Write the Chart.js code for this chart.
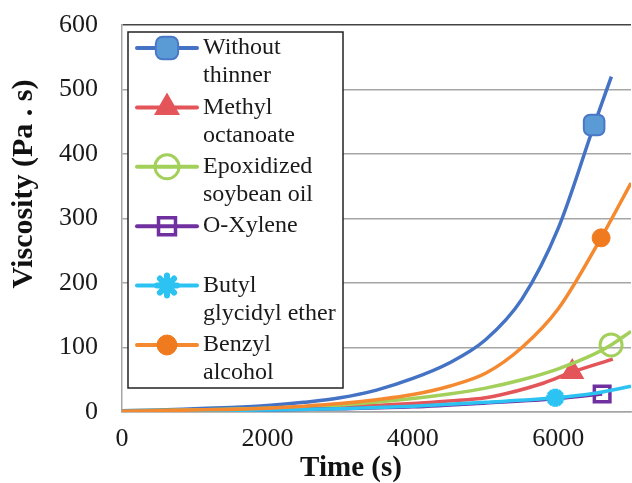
<!DOCTYPE html>
<html>
<head>
<meta charset="utf-8">
<script src="https://cdn.jsdelivr.net/npm/chart.js@4.4.1/dist/chart.umd.min.js"></script>
<style>
  body { margin: 0; background: #fff; }
  canvas { display: block; }
</style>
</head>
<body>
<canvas id="viscChart" width="632" height="483"></canvas>
<script>
// legend names, split over two lines each
const seriesNames = [
  ['Without', 'thinner'],
  ['Methyl', 'octanoate'],
  ['Epoxidized', 'soybean oil'],
  ['O-Xylene', ''],
  ['Butyl', 'glycidyl ether'],
  ['Benzyl', 'alcohol']
];

// time (s) and viscosity (Pa.s) for each thinner
const timeWithout = [0, 500, 1000, 1500, 2000, 2500, 3000, 3500, 4000, 4500, 5000, 5500, 6000, 6493, 6730];
const viscWithout = [2, 3, 5, 7, 10, 15, 22, 34, 52, 76, 112, 175, 285, 445, 520];

const timeMethyl = [0, 1000, 2000, 3000, 4000, 4500, 5000, 5300, 5800, 6192, 6750];
const viscMethyl = [1, 3, 5, 8, 13, 17, 22, 29, 45, 62, 82];

const timeEpoxy = [0, 1000, 2000, 3000, 4000, 4500, 5000, 5500, 6000, 6500, 6726, 7000];
const viscEpoxy = [2, 3, 6, 11, 21, 28, 37, 50, 67, 90, 104, 125];

const timeXylene = [0, 1000, 2000, 3000, 4000, 5000, 6000, 6603];
const viscXylene = [1, 2, 3, 5, 8, 14, 21, 28];

const timeButyl = [0, 1000, 2000, 3000, 4000, 5000, 5959, 6500, 7000];
const viscButyl = [1, 2, 3, 5, 9, 15, 22, 29, 40];

const timeBenzyl = [0, 500, 1000, 1500, 2000, 2500, 3000, 3500, 4000, 4500, 5000, 5500, 6000, 6589, 7000];
const viscBenzyl = [1, 2, 3, 4, 6, 9, 13, 19, 27, 40, 60, 100, 160, 270, 355];

// which point of each series carries the marker
const markerIndex = [13, 9, 10, 7, 6, 13];

const xTicks = [0, 2000, 4000, 6000];
const yTicks = [0, 100, 200, 300, 400, 500, 600];

const seriesTimes = [timeWithout, timeMethyl, timeEpoxy, timeXylene, timeButyl, timeBenzyl];
const seriesVisc = [viscWithout, viscMethyl, viscEpoxy, viscXylene, viscButyl, viscBenzyl];

const looks = [
  { line: '#4472C4', fill: '#5B9BD5', edge: '#4A78C6', style: 'rectRounded', r: 12, bw: 2 },
  { line: '#E4555A', fill: '#E4555A', edge: '#E4555A', style: 'triangle', r: 12, bw: 2 },
  { line: '#A3D05A', fill: 'rgba(255,255,255,0)', edge: '#A3D05A', style: 'circle', r: 11, bw: 3 },
  { line: '#7030A0', fill: 'rgba(255,255,255,0)', edge: '#7030A0', style: 'rect', r: 11, bw: 3.5 },
  { line: '#2CC3F3', fill: '#2CC3F3', edge: '#2CC3F3', style: 'star', r: 9, bw: 6 },
  { line: '#F5892F', fill: '#F07A1E', edge: '#F07A1E', style: 'circle', r: 9, bw: 1 }
];

const serif = '"Liberation Serif", "Times New Roman", serif';

const datasets = seriesNames.map((name, i) => {
  const lk = looks[i];
  return {
    label: name.join(' ').trim(),
    data: seriesTimes[i].map((t, k) => ({ x: t, y: seriesVisc[i][k] })),
    borderColor: lk.line,
    borderWidth: 3.5,
    cubicInterpolationMode: 'monotone',
    pointStyle: lk.style,
    pointRadius: seriesTimes[i].map((t, k) => k === markerIndex[i] ? lk.r : 0),
    pointHoverRadius: 0,
    pointBackgroundColor: lk.fill,
    pointBorderColor: lk.edge,
    pointBorderWidth: lk.bw,
    order: seriesNames.length - i
  };
});

function drawMarker(ctx, lk, x, y) {
  ctx.fillStyle = lk.fill;
  ctx.strokeStyle = lk.edge;
  ctx.lineWidth = lk.bw;
  if (Chart.helpers && Chart.helpers.drawPoint) {
    Chart.helpers.drawPoint(ctx, { pointStyle: lk.style, radius: lk.r + 1, borderWidth: lk.bw, rotation: 0 }, x, y);
  } else {
    ctx.beginPath();
    ctx.arc(x, y, lk.r, 0, Math.PI * 2);
    ctx.fill();
    ctx.stroke();
  }
}

// boxed legend inside the plot, top-left corner
const legendBox = {
  id: 'legendBox',
  afterDatasetsDraw(chart) {
    const { ctx, chartArea } = chart;
    const left = chartArea.left + 6, top = chartArea.top + 7, w = 215, h = 356;
    ctx.save();
    ctx.fillStyle = '#fff';
    ctx.fillRect(left, top, w, h);
    ctx.strokeStyle = '#222';
    ctx.lineWidth = 1.5;
    ctx.strokeRect(left, top, w, h);
    seriesNames.forEach((name, i) => {
      const lk = looks[i];
      const y = top + 16 + i * 59.4;
      ctx.strokeStyle = lk.line;
      ctx.lineWidth = 4;
      ctx.lineCap = 'round';
      ctx.beginPath();
      ctx.moveTo(left + 9, y);
      ctx.lineTo(left + 69, y);
      ctx.stroke();
      drawMarker(ctx, lk, left + 39, y);
      ctx.fillStyle = '#1a1a1a';
      ctx.font = '24px ' + serif;
      ctx.textAlign = 'left';
      ctx.textBaseline = 'middle';
      ctx.fillText(name[0], left + 75, y);
      if (name[1]) ctx.fillText(name[1], left + 75, y + 28);
    });
    ctx.restore();
  }
};

const axisTitles = {
  id: 'axisTitles',
  afterDraw(chart) {
    const { ctx, chartArea } = chart;
    ctx.save();
    ctx.fillStyle = '#111';
    ctx.textAlign = 'center';
    ctx.textBaseline = 'middle';
    ctx.font = 'bold 29px ' + serif;
    ctx.fillText('Time (s)', chartArea.left + 229, chartArea.bottom + 57);
    ctx.font = 'bold 30px ' + serif;
    ctx.translate(chartArea.left - 98, chartArea.top + 159);
    ctx.rotate(-Math.PI / 2);
    ctx.fillText('Viscosity (Pa . s)', 0, 0);
    ctx.restore();
  }
};

new Chart(document.getElementById('viscChart'), {
  type: 'line',
  data: { datasets },
  options: {
    responsive: false,
    animation: false,
    events: [],
    layout: { autoPadding: false, padding: { top: 25, right: 1, left: 0, bottom: 0 } },
    plugins: {
      legend: { display: false },
      tooltip: { enabled: false }
    },
    scales: {
      x: {
        type: 'linear',
        min: 0,
        max: 7000,
        afterBuildTicks: s => { s.ticks = xTicks.map(v => ({ value: v })); },
        afterFit: s => { s.height = 71; s.paddingLeft = 0; s.paddingRight = 0; },
        grid: { display: false, drawTicks: false },
        border: { color: '#A6A6A6', width: 1.5 },
        ticks: {
          font: { family: serif, size: 26 }, color: '#1a1a1a', padding: 12, maxRotation: 0,
          callback: v => String(v)
        }
      },
      y: {
        min: 0,
        max: 600,
        afterBuildTicks: s => { s.ticks = yTicks.map(v => ({ value: v })); },
        afterFit: s => { s.width = 122; s.paddingTop = 0; s.paddingBottom = 0; },
        grid: {
          drawTicks: false,
          color: c => c.tick && c.tick.value === 600 ? '#444' : '#A6A6A6',
          lineWidth: 1.5
        },
        border: { color: '#A6A6A6', width: 1.5 },
        ticks: { font: { family: serif, size: 26 }, color: '#1a1a1a', padding: 24, callback: v => String(v) }
      }
    }
  },
  plugins: [legendBox, axisTitles]
});
</script>
</body>
</html>
